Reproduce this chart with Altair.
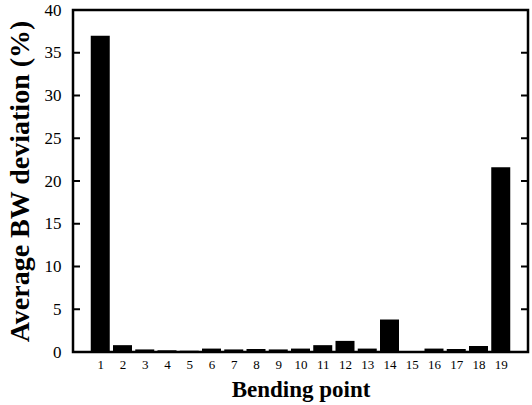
import altair as alt
import pandas as pd

# Average bandwidth deviation per bending point
points = list(range(1, 20))
deviation = [37.0, 0.8, 0.3, 0.2, 0.15, 0.4, 0.3, 0.35, 0.3, 0.4,
             0.8, 1.3, 0.4, 3.8, 0.1, 0.4, 0.35, 0.7, 21.6]
y_ticks = [0, 5, 10, 15, 20, 25, 30, 35, 40]

W, H = 455, 342
FONT = "Liberation Serif"

bars_df = pd.DataFrame({"point": points, "dev": deviation})
ticks_df = pd.DataFrame({"v": y_ticks})

x_scale = alt.Scale(domain=[0, 20], nice=False, zero=False)
y_scale = alt.Scale(domain=[0, 40], nice=False)

bars = alt.Chart(bars_df).mark_bar(color="black", size=19).encode(
    x=alt.X("point:Q", scale=x_scale,
            axis=alt.Axis(values=points, title="Bending point", ticks=False,
                          domain=False, grid=False, labelFontSize=13,
                          labelFont=FONT, labelColor="black", labelPadding=6,
                          titleFont=FONT, titleFontSize=23, titleFontWeight="bold",
                          titleColor="black", titlePadding=7)),
    y=alt.Y("dev:Q", scale=y_scale,
            axis=alt.Axis(values=y_ticks, title="Average BW deviation (%)",
                          ticks=False, domain=False, grid=False,
                          labelFontSize=17, labelFont=FONT, labelColor="black",
                          labelPadding=12, titleFont=FONT, titleFontSize=28,
                          titleFontWeight="bold", titleColor="black",
                          titlePadding=10)),
)

# inward-pointing tick marks on the left and right frame edges
left_ticks = alt.Chart(ticks_df).mark_rule(color="black", strokeWidth=2).encode(
    x=alt.value(0), x2=alt.value(7), y=alt.Y("v:Q", scale=y_scale)
)
right_ticks = alt.Chart(ticks_df).mark_rule(color="black", strokeWidth=2).encode(
    x=alt.value(W), x2=alt.value(W - 7), y=alt.Y("v:Q", scale=y_scale)
)

chart = (
    alt.layer(bars, left_ticks, right_ticks)
    .properties(
        width=W, height=H,
        autosize=alt.AutoSizeParams(type="none"),
        padding={"left": 73, "top": 10, "right": 4, "bottom": 53},
        background="white",
    )
    .configure_view(stroke="black", strokeWidth=2.5)
)

chart.save("out.html", embed_options={"renderer": "svg", "actions": False})
